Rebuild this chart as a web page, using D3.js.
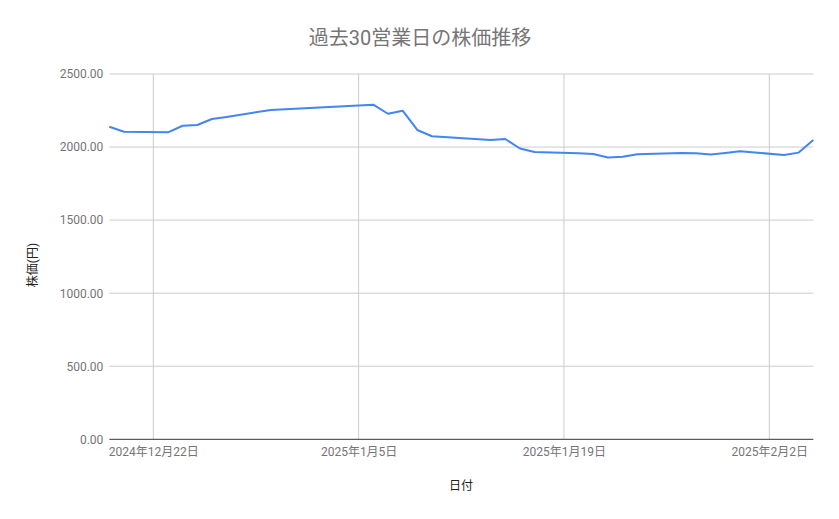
<!DOCTYPE html>
<html>
<head>
<meta charset="utf-8">
<script src="https://cdn.jsdelivr.net/npm/d3@7"></script>
<style>
  body { margin: 0; background: #fff; }
  text { font-family: Roboto, "Noto Sans CJK JP", sans-serif; }
</style>
</head>
<body>
<svg id="chart" width="839" height="519"></svg>
<script>
// trading days (30)
const dates = [
  '2024-12-19', '2024-12-20', '2024-12-23', '2024-12-24', '2024-12-25',
  '2024-12-26', '2024-12-27', '2024-12-30', '2025-01-06', '2025-01-07',
  '2025-01-08', '2025-01-09', '2025-01-10', '2025-01-14', '2025-01-15',
  '2025-01-16', '2025-01-17', '2025-01-20', '2025-01-21', '2025-01-22',
  '2025-01-23', '2025-01-24', '2025-01-27', '2025-01-28', '2025-01-29',
  '2025-01-30', '2025-01-31', '2025-02-03', '2025-02-04', '2025-02-05'
]
const prices = [
  2139, 2105, 2101, 2146, 2151, 2192, 2206, 2254, 2290, 2228,
  2249, 2117, 2074, 2048, 2055, 1990, 1966, 1957, 1953, 1929,
  1934, 1951, 1959, 1957, 1949, 1959, 1971, 1946, 1962, 2048
]
const yTicks = [0, 500, 1000, 1500, 2000, 2500]
const xTicks = ['2024-12-22', '2025-01-05', '2025-01-19', '2025-02-02']

const title = '過去30営業日の株価推移'
const xTitle = '日付'
const yTitle = '株価(円)'

const parse = d3.timeParse('%Y-%m-%d')
const data = dates.map((d, i) => ({ dt: parse(d), price: prices[i] }))

const svg = d3.select('#chart')
const plotLeft = 109.3
const plotRight = 813.3
const plotTop = 74
const plotBottom = 439.3

const x = d3
  .scaleTime()
  .domain([parse('2024-12-19'), parse('2025-02-05')])
  .range([plotLeft, plotRight])

const y = d3.scaleLinear().domain([0, 2500]).range([plotBottom, plotTop])

// horizontal grid
svg
  .append('g')
  .selectAll('line')
  .data(yTicks.slice(1))
  .enter()
  .append('line')
  .attr('x1', plotLeft)
  .attr('x2', plotRight)
  .attr('y1', (d) => y(d))
  .attr('y2', (d) => y(d))
  .attr('stroke', '#cccccc')
  .attr('stroke-width', 1)

// vertical grid
svg
  .append('g')
  .selectAll('line')
  .data(xTicks.map(parse))
  .enter()
  .append('line')
  .attr('x1', (d) => x(d))
  .attr('x2', (d) => x(d))
  .attr('y1', plotTop)
  .attr('y2', plotBottom)
  .attr('stroke', '#cccccc')
  .attr('stroke-width', 1)

// y axis labels
const yAxis = svg
  .append('g')
  .attr('transform', `translate(${plotLeft},0)`)
  .call(
    d3
      .axisLeft(y)
      .tickValues(yTicks)
      .tickFormat((d) => d3.format('.2f')(d))
      .tickSize(0)
      .tickPadding(6)
  )
yAxis.select('.domain').remove()
yAxis.selectAll('text').attr('fill', '#757575').style('font-size', '12px')

// x axis labels
const xAxis = svg
  .append('g')
  .attr('transform', `translate(0,${plotBottom})`)
  .call(
    d3
      .axisBottom(x)
      .tickValues(xTicks.map(parse))
      .tickFormat(d3.timeFormat('%Y年%-m月%-d日'))
      .tickSize(0)
      .tickPadding(8)
  )
xAxis.select('.domain').remove()
xAxis.selectAll('text').attr('fill', '#757575').style('font-size', '12px')

// baseline
svg
  .append('line')
  .attr('x1', plotLeft)
  .attr('x2', plotRight)
  .attr('y1', y(0))
  .attr('y2', y(0))
  .attr('stroke', '#333333')
  .attr('stroke-width', 1)

// price line
svg
  .append('path')
  .datum(data)
  .attr(
    'd',
    d3
      .line()
      .x((d) => x(d.dt))
      .y((d) => y(d.price))
  )
  .attr('stroke', '#4285f4')
  .style('stroke-width', 2)
  .style('fill', 'none')
  .style('stroke-linejoin', 'round')

// titles
svg
  .append('text')
  .attr('x', 420)
  .attr('y', 45)
  .attr('text-anchor', 'middle')
  .attr('fill', '#757575')
  .style('font-size', '20px')
  .text(title)

svg
  .append('text')
  .attr('x', 461)
  .attr('y', 490)
  .attr('text-anchor', 'middle')
  .attr('fill', '#222222')
  .style('font-size', '12px')
  .text(xTitle)

svg
  .append('text')
  .attr('transform', 'translate(37,265) rotate(-90)')
  .attr('text-anchor', 'middle')
  .attr('fill', '#222222')
  .style('font-size', '12px')
  .text(yTitle)
</script>
</body>
</html>
